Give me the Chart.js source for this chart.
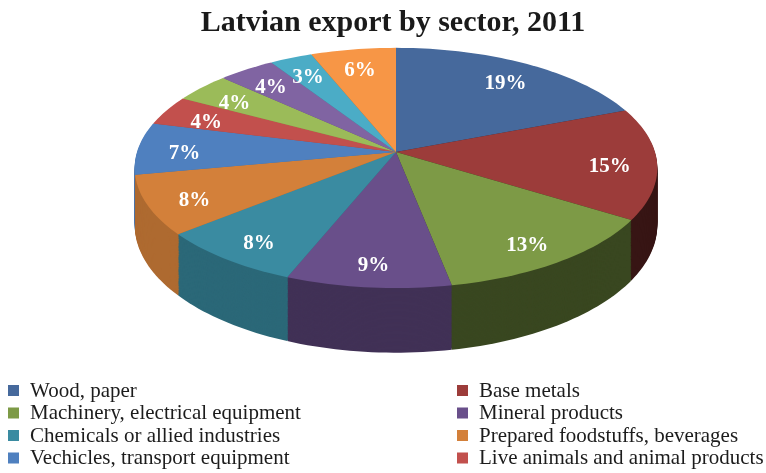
<!DOCTYPE html>
<html>
<head>
<meta charset="utf-8">
<script src="https://cdn.jsdelivr.net/npm/chart.js@4/dist/chart.umd.min.js"></script>
<style>
  html, body { margin: 0; padding: 0; background: #fff; }
  #wrap { width: 766px; height: 473px; }
</style>
</head>
<body>
<div id="wrap"><canvas id="exportChart" width="766" height="473"></canvas></div>
<script>
const sectors = [
  'Wood, paper',
  'Base metals',
  'Machinery, electrical equipment',
  'Mineral products',
  'Chemicals or allied industries',
  'Prepared foodstuffs, beverages',
  'Vechicles, transport equipment',
  'Live animals and animal products',
  'Plastics and rubber',
  'Textiles',
  'Stone, glass, ceramics',
  'Other'
];
const shares = [19, 15, 13, 9, 8, 8, 7, 4, 4, 4, 3, 6];
const sliceColors = [
  '#46699c', '#9c3c3a', '#7d9a46', '#694f8a', '#3a8ba1', '#d3803a',
  '#4f80bf', '#c2504d', '#9bbb59', '#8064a2', '#4bacc6', '#f79646'
];
const legendItems = 8; // only the first eight sectors fit in the key

// tilted disc seen in perspective: centre, half-width, half-depth,
// perspective strength and wall height (px)
const CX = 396, CY = 152, AX = 259, BY = 118, PERSP = 0.133, WALL = 56;

function project(u, v, h) {
  const k = 1 - PERSP * v;
  return [CX + AX * u / k, CY + (BY * v + h) / k];
}

function shade(hex, f) {
  const n = parseInt(hex.slice(1), 16);
  const r = Math.round(((n >> 16) & 255) * f);
  const g = Math.round(((n >> 8) & 255) * f);
  const b = Math.round((n & 255) * f);
  return `rgb(${r},${g},${b})`;
}

// slice outline from the arc element's own start/end angles
function slicePath(ctx, a, h) {
  const steps = Math.max(4, Math.ceil((a.endAngle - a.startAngle) * 40));
  ctx.beginPath();
  let p = project(0, 0, h);
  ctx.moveTo(p[0], p[1]);
  for (let s = 0; s <= steps; s++) {
    const t = a.startAngle + (a.endAngle - a.startAngle) * s / steps;
    p = project(Math.cos(t), Math.sin(t), h);
    ctx.lineTo(p[0], p[1]);
  }
  ctx.closePath();
}

const pie3d = {
  id: 'pie3d',
  beforeDatasetsDraw(chart) {
    const ctx = chart.ctx;
    const arcs = chart.getDatasetMeta(0).data;
    if (!arcs.length) return false;

    // side walls: darkened copies of each slice stacked downwards
    for (let h = WALL; h >= 1; h--) {
      arcs.forEach((a, i) => {
        const mid = (a.startAngle + a.endAngle) / 2 + Math.PI / 2;
        ctx.fillStyle = shade(sliceColors[i], 0.6 - 0.25 * Math.sin(mid));
        slicePath(ctx, a, h);
        ctx.fill();
      });
    }

    // top face
    arcs.forEach((a, i) => {
      ctx.fillStyle = sliceColors[i];
      slicePath(ctx, a, 0);
      ctx.fill();
    });

    // percentage labels
    ctx.save();
    ctx.font = "bold 21px 'Liberation Serif'";
    ctx.fillStyle = '#ffffff';
    ctx.textAlign = 'center';
    ctx.textBaseline = 'middle';
    arcs.forEach((a, i) => {
      const mid = (a.startAngle + a.endAngle) / 2;
      const [px, py] = project(Math.cos(mid) * 0.82, Math.sin(mid) * 0.82, 5);
      ctx.fillText(shares[i] + '%', px, py);
    });
    ctx.restore();
    return false;
  },
  afterDraw(chart) {
    const ctx = chart.ctx;
    ctx.save();
    ctx.font = "21px 'Liberation Serif'";
    ctx.textBaseline = 'middle';
    for (let i = 0; i < legendItems; i++) {
      const col = i % 2, row = Math.floor(i / 2);
      const x = col === 0 ? 8 : 457;
      const y = 390 + row * 22.5;
      ctx.fillStyle = sliceColors[i];
      ctx.fillRect(x, y - 5, 11, 11);
      ctx.fillStyle = '#1c1c1c';
      ctx.fillText(sectors[i], x + 22, y + 1);
    }
    ctx.restore();
  }
};

new Chart(document.getElementById('exportChart'), {
  type: 'pie',
  data: {
    labels: sectors,
    datasets: [{
      data: shares,
      backgroundColor: sliceColors,
      borderWidth: 0
    }]
  },
  options: {
    responsive: false,
    animation: false,
    events: [],
    layout: { padding: { top: 0, bottom: 120, left: 20, right: 0 } },
    plugins: {
      legend: { display: false },
      tooltip: { enabled: false },
      title: {
        display: true,
        text: 'Latvian export by sector, 2011',
        color: '#1a1a1a',
        font: { family: "'Liberation Serif'", size: 30, weight: 'bold' },
        padding: { top: 5, bottom: 6 }
      }
    }
  },
  plugins: [pie3d]
});
</script>
</body>
</html>
